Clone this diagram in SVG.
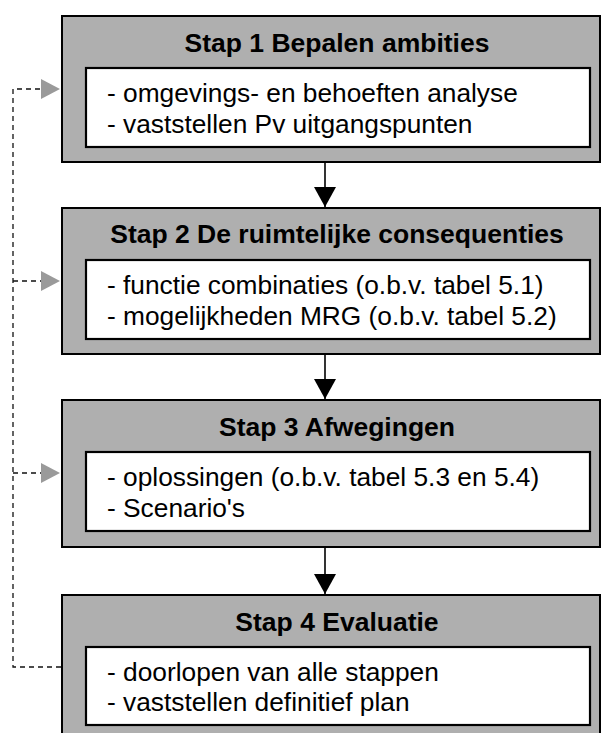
<svg xmlns="http://www.w3.org/2000/svg" width="601" height="733" viewBox="0 0 601 733">
  <style>
    .outer { fill: #afafaf; stroke: #000; stroke-width: 2; }
    .inner { fill: #fff; stroke: #000; stroke-width: 2.2; }
    .title { font-family: "Liberation Sans", Arial, sans-serif; font-size: 26.5px; font-weight: bold; fill: #000; text-anchor: middle; }
    .body { font-family: "Liberation Sans", Arial, sans-serif; font-size: 26.3px; fill: #000; }
    .flow { stroke: #000; stroke-width: 1.6; fill: none; }
    .fb { stroke: #111; stroke-width: 1.3; fill: none; stroke-dasharray: 5 4; }
    .fbhead { fill: #9a9a9a; }
  </style>
  <defs>
    <marker id="ah" viewBox="0 0 20 22" refX="20" refY="11" markerWidth="20" markerHeight="22" markerUnits="userSpaceOnUse" orient="auto">
      <path d="M0 0 L20 11 L0 22 Z" fill="#000"/>
    </marker>
  </defs>

  <g id="connectors">
    <line class="flow" x1="325" y1="163" x2="325" y2="207" marker-end="url(#ah)"/>
    <line class="flow" x1="325" y1="354" x2="325" y2="399" marker-end="url(#ah)"/>
    <line class="flow" x1="325" y1="547" x2="325" y2="594" marker-end="url(#ah)"/>
    <path class="fb" d="M61 667 L13 667 L13 89 L41 89"/>
    <path class="fb" d="M13 281 L41 281"/>
    <path class="fb" d="M13 473 L41 473"/>
    <path class="fbhead" d="M41 79 L60 89 L41 99 Z"/>
    <path class="fbhead" d="M41 271 L60 281 L41 291 Z"/>
    <path class="fbhead" d="M41 463 L60 473 L41 483 Z"/>
  </g>

  <g id="stap1">
    <rect class="outer" x="62" y="16" width="538" height="146"/>
    <text class="title" x="337" y="52">Stap 1 Bepalen ambities</text>
    <rect class="inner" x="86" y="68" width="504" height="79"/>
    <text class="body" x="107" y="102">- omgevings- en behoeften analyse</text>
    <text class="body" x="107" y="133">- vaststellen Pv uitgangspunten</text>
  </g>

  <g id="stap2">
    <rect class="outer" x="62" y="208" width="538" height="146"/>
    <text class="title" x="337" y="243">Stap 2 De ruimtelijke consequenties</text>
    <rect class="inner" x="86" y="260" width="504" height="79"/>
    <text class="body" x="107" y="294">- functie combinaties (o.b.v. tabel 5.1)</text>
    <text class="body" x="107" y="325">- mogelijkheden MRG (o.b.v. tabel 5.2)</text>
  </g>

  <g id="stap3">
    <rect class="outer" x="62" y="400" width="538" height="147"/>
    <text class="title" x="337" y="436">Stap 3 Afwegingen</text>
    <rect class="inner" x="86" y="452" width="504" height="79"/>
    <text class="body" x="107" y="486">- oplossingen (o.b.v. tabel 5.3 en 5.4)</text>
    <text class="body" x="107" y="517">- Scenario's</text>
  </g>

  <g id="stap4">
    <rect class="outer" x="62" y="595" width="538" height="146"/>
    <text class="title" x="337" y="631">Stap 4 Evaluatie</text>
    <rect class="inner" x="86" y="647" width="504" height="78"/>
    <text class="body" x="107" y="681">- doorlopen van alle stappen</text>
    <text class="body" x="107" y="711">- vaststellen definitief plan</text>
  </g>
</svg>
